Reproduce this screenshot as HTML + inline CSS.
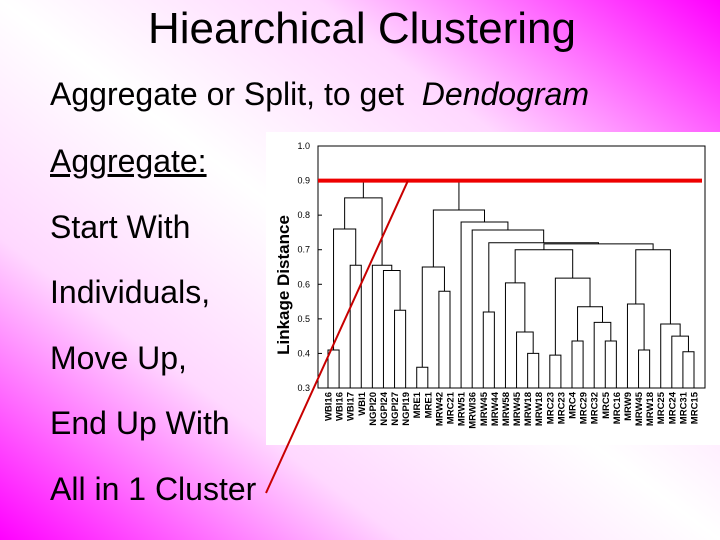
<!DOCTYPE html>
<html><head><meta charset="utf-8"><style>
html,body{margin:0;padding:0}
body{width:720px;height:540px;position:relative;overflow:hidden;font-family:"Liberation Sans",sans-serif;
background:linear-gradient(to top right,#ff00ff 0%,#ffd8ff 28%,#ffffff 50%,#ffd8ff 72%,#ff00ff 100%);}
.t{position:absolute;white-space:nowrap;color:#000;line-height:1}
</style></head><body>
<div class="t" style="left:148px;top:7px;font-size:44px">Hiearchical Clustering</div>
<div class="t" style="left:50px;top:78px;font-size:32px">Aggregate or Split, to get&nbsp; <i>Dendogram</i></div>
<div class="t" style="left:50px;top:145px;font-size:32px;text-decoration:underline">Aggregate:</div>
<div class="t" style="left:50px;top:211px;font-size:32px">Start With</div>
<div class="t" style="left:50px;top:276px;font-size:32px">Individuals,</div>
<div class="t" style="left:50px;top:342px;font-size:32px">Move Up,</div>
<div class="t" style="left:50px;top:407px;font-size:32px">End Up With</div>
<div class="t" style="left:50px;top:473px;font-size:32px">All in 1 Cluster</div>
<svg id="chart" width="720" height="540" style="position:absolute;left:0;top:0">
<rect x="266" y="132" width="454" height="313" fill="#fff"/>
</svg>
<script>
const leafLabels=["WBI16","WBI16","WBI17","WBI1","NGPI20","NGPI24","NGPI27","NGPI19","MRE1","MRE1","MRW42","MRC21","MRW51","MRWI36","MRW45","MRW44","MRW58","MRW45","MRW18","MRW18","MRC23","MRC23","MRC4","MRC29","MRC32","MRC5","MRC16","MRW9","MRW45","MRW18","MRC25","MRC24","MRC31","MRC15"];
const yTicks=[0.3,0.4,0.5,0.6,0.7,0.8,0.9,1.0];
// merges: children refer to leaves as "L#" or previous merges as "M#"
const mergeLeft=["L0","L2","M0","L6","L5","L4","M5","L8","L10","M7","L14","L18","L17","L16","L20","L22","L25","L24","M15","M14","L28","L27","L32","L31","L30","M21","M13","M26","M10","L13","L12","M9","M6"];
const mergeRight=["L1","L3","M1","L7","M3","M4","M2","L9","L11","M8","L15","L19","M11","M12","L21","L23","L26","M16","M17","M18","L29","M20","L33","M22","M23","M24","M19","M25","M27","M28","M29","M30","M31"];
const mergeHeight=[0.41,0.655,0.76,0.525,0.64,0.655,0.85,0.36,0.58,0.65,0.52,0.40,0.462,0.604,0.395,0.436,0.436,0.49,0.535,0.618,0.41,0.543,0.405,0.45,0.485,0.70,0.70,0.717,0.72,0.757,0.78,0.815,0.90];
const cutHeight=0.9;

const svg=document.getElementById('chart');
const NS='http://www.w3.org/2000/svg';
const X0=328,X1=694,YT=146,YB=388;
const xLeaf=i=>X0+i*(X1-X0)/(leafLabels.length-1);
const yv=v=>YB-(v-0.3)/(1.0-0.3)*(YB-YT);
function mk(tag,attrs){const e=document.createElementNS(NS,tag);for(const k in attrs)e.setAttribute(k,attrs[k]);svg.appendChild(e);return e;}
let fr=mk('rect',{x:318,y:YT,width:705-318,height:YB-YT,fill:'none',stroke:'#000','stroke-width':1});


yTicks.forEach(v=>{
  const y=yv(v);
  let l=mk('line',{x1:318,x2:322,y1:y,y2:y,stroke:'#000'});
  
  
  let t=mk('text',{x:310,y:y+3,'font-size':9,'text-anchor':'end','font-family':'Liberation Sans, sans-serif'});
  t.textContent=v.toFixed(1);
  
  
});
let yt=mk('text',{x:0,y:0,'font-size':17,'font-weight':'bold','text-anchor':'middle','font-family':'Liberation Sans, sans-serif',transform:'translate(289,285) rotate(-90)'});
yt.textContent='Linkage Distance';


leafLabels.forEach((s,i)=>{
  let t=mk('text',{x:0,y:0,'font-size':9.5,'font-weight':'bold','text-anchor':'end','font-family':'Liberation Sans, sans-serif',transform:`translate(${xLeaf(i)+3.5},392) rotate(-90)`});
  t.textContent=s;
  
  
});
const pos={};
function node(id){
  if(id[0]==='L'){const i=+id.slice(1);return {x:xLeaf(i),h:0.3};}
  return pos[id];
}
mergeHeight.forEach((h,k)=>{
  const a=node(mergeLeft[k]),b=node(mergeRight[k]);
  const y=yv(h);
  let p=mk('path',{d:`M${a.x},${yv(a.h)}V${y}H${b.x}V${yv(b.h)}`,fill:'none',stroke:'#000','stroke-width':1});
  
  
  pos['M'+k]={x:(a.x+b.x)/2,h:h};
});
let cut=mk('line',{x1:318,x2:702,y1:yv(cutHeight),y2:yv(cutHeight),stroke:'#ee0000','stroke-width':4});


let diag=mk('line',{x1:408,y1:yv(cutHeight),x2:266,y2:493,stroke:'#c80000','stroke-width':2});


</script>
</body></html>
